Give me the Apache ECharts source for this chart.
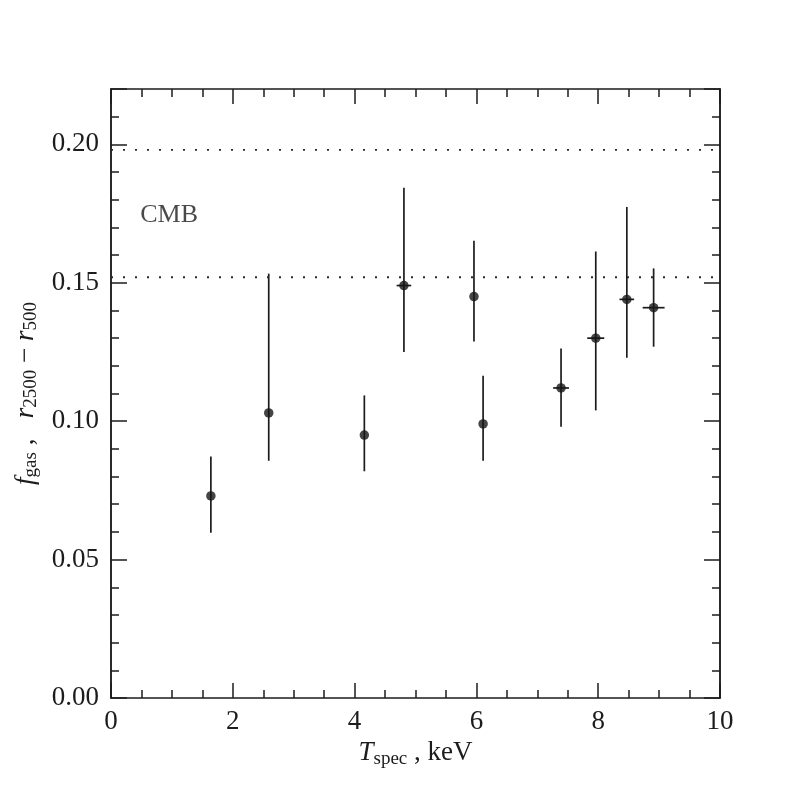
<!DOCTYPE html>
<html>
<head>
<meta charset="utf-8">
<script src="https://cdn.jsdelivr.net/npm/echarts@6/dist/echarts.min.js"></script>
<style>
  html, body { margin: 0; padding: 0; background: #fff; }
  #chart { width: 789px; height: 789px; }
</style>
</head>
<body>
<div id="chart"></div>
<script>
// temperature (keV) and its half-width error
const tspec = [1.64, 2.59, 4.16, 4.81, 5.96, 6.11, 7.39, 7.96, 8.47, 8.91]
const tErr = [0, 0, 0, 0.12, 0, 0, 0.13, 0.14, 0.12, 0.18]
// gas fraction in the r2500 - r500 shell
const fgas = [0.073, 0.103, 0.095, 0.149, 0.145, 0.099, 0.112, 0.130, 0.144, 0.141]
const fLow = [0.0597, 0.0857, 0.0819, 0.125, 0.1288, 0.0857, 0.098, 0.1039, 0.1229, 0.1269]
const fHigh = [0.0872, 0.1533, 0.1093, 0.1843, 0.1652, 0.1164, 0.1263, 0.1613, 0.1774, 0.1552]
// CMB band limits
const cmbLevels = [0.198, 0.152]
const cmbText = 'CMB'

const FONT = "'Liberation Serif', 'Times New Roman', serif"
const INK = '#1c1c1c'

const chart = echarts.init(document.getElementById('chart'))

const axisLine = { show: true, onZero: false, lineStyle: { color: INK, width: 1.5 } }

const xMajor = (pos, labels) => ({
  type: 'value',
  position: pos,
  min: 0,
  max: 10,
  interval: 2,
  axisLine,
  axisTick: { show: true, inside: true, length: 15, lineStyle: { color: INK, width: 1.5 } },
  minorTick: { show: true, splitNumber: 4, length: 8, lineStyle: { color: INK, width: 1.5 } },
  axisLabel: labels ? { show: true, margin: 10, color: INK, fontFamily: FONT, fontSize: 27 } : { show: false },
  splitLine: { show: false },
  minorSplitLine: { show: false },
})

const yAxisOf = (pos, interval, len, labels) => ({
  type: 'value',
  position: pos,
  min: 0,
  max: 0.22,
  interval,
  axisLine,
  axisTick: { show: true, inside: true, length: len, lineStyle: { color: INK, width: 1.5 } },
  axisLabel: labels ? {
    show: true,
    margin: 12,
    color: INK,
    fontFamily: FONT,
    fontSize: 27,
    formatter: v => (v > 0.2001 ? '' : v.toFixed(2)),
  } : { show: false },
  splitLine: { show: false },
})

const richBase = {
  it: { fontFamily: FONT, fontStyle: 'italic', fontSize: 27, color: INK, lineHeight: 30, verticalAlign: 'middle' },
  sub: { fontFamily: FONT, fontSize: 19, color: INK, lineHeight: 15, verticalAlign: 'bottom' },
  n: { fontFamily: FONT, fontSize: 27, color: INK, lineHeight: 30, verticalAlign: 'middle' },
}

const xAxes = [xMajor('bottom', true), xMajor('top', false)]
xAxes[0].name = '{it|T}{sub|spec}{n| , keV}'
xAxes[0].nameLocation = 'middle'
xAxes[0].nameGap = 37
xAxes[0].nameTextStyle = { rich: richBase }

const yAxes = [
  yAxisOf('left', 0.05, 16, true),
  yAxisOf('left', 0.01, 8, false),
  yAxisOf('right', 0.05, 16, false),
  yAxisOf('right', 0.01, 8, false),
]
yAxes[0].name = '{it|f}{sub|gas}{n| ,   }{it|r}{sub|2500}{n| − }{it|r}{sub|500}'
yAxes[0].nameLocation = 'middle'
yAxes[0].nameGap = 70
yAxes[0].nameTextStyle = { rich: richBase }

const points = tspec.map((t, i) => [t, fgas[i]])
const bars = tspec.map((t, i) => [t, fLow[i], fHigh[i], tErr[i], fgas[i]])

const series = cmbLevels.map(lvl => ({
  type: 'line',
  xAxisIndex: 0,
  yAxisIndex: 0,
  data: [[0, lvl], [10, lvl]],
  symbol: 'none',
  silent: true,
  lineStyle: { color: '#2a2a2a', width: 1.8, type: [2, 10] },
}))

series.push({
  type: 'custom',
  xAxisIndex: 0,
  yAxisIndex: 0,
  data: bars,
  renderItem: (params, api) => {
    const x = api.value(0)
    const xe = api.value(3)
    const y = api.value(4)
    const top = api.coord([x, api.value(2)])
    const bot = api.coord([x, api.value(1)])
    const style = { stroke: INK, lineWidth: 1.7 }
    const children = [{ type: 'line', shape: { x1: top[0], y1: top[1], x2: bot[0], y2: bot[1] }, style }]
    if (xe > 0) {
      const l = api.coord([x - xe, y])
      const r = api.coord([x + xe, y])
      children.push({ type: 'line', shape: { x1: l[0], y1: l[1], x2: r[0], y2: r[1] }, style })
    }
    return { type: 'group', children }
  },
  z: 3,
})

series.push({
  type: 'scatter',
  xAxisIndex: 0,
  yAxisIndex: 0,
  data: points,
  symbol: 'circle',
  symbolSize: 9.5,
  itemStyle: { color: '#161616' },
  z: 4,
})

// CMB annotation
series.push({
  type: 'scatter',
  xAxisIndex: 0,
  yAxisIndex: 0,
  data: [[0.48, 0.1745]],
  symbolSize: 0,
  silent: true,
  label: {
    show: true,
    position: 'right',
    distance: 0,
    formatter: cmbText,
    fontFamily: FONT,
    fontSize: 26,
    color: INK,
  },
})

chart.setOption({
  animation: false,
  backgroundColor: '#fff',
  grid: { left: 111, right: 69, top: 89, bottom: 91 },
  xAxis: xAxes,
  yAxis: yAxes,
  series,
})
</script>
</body>
</html>
